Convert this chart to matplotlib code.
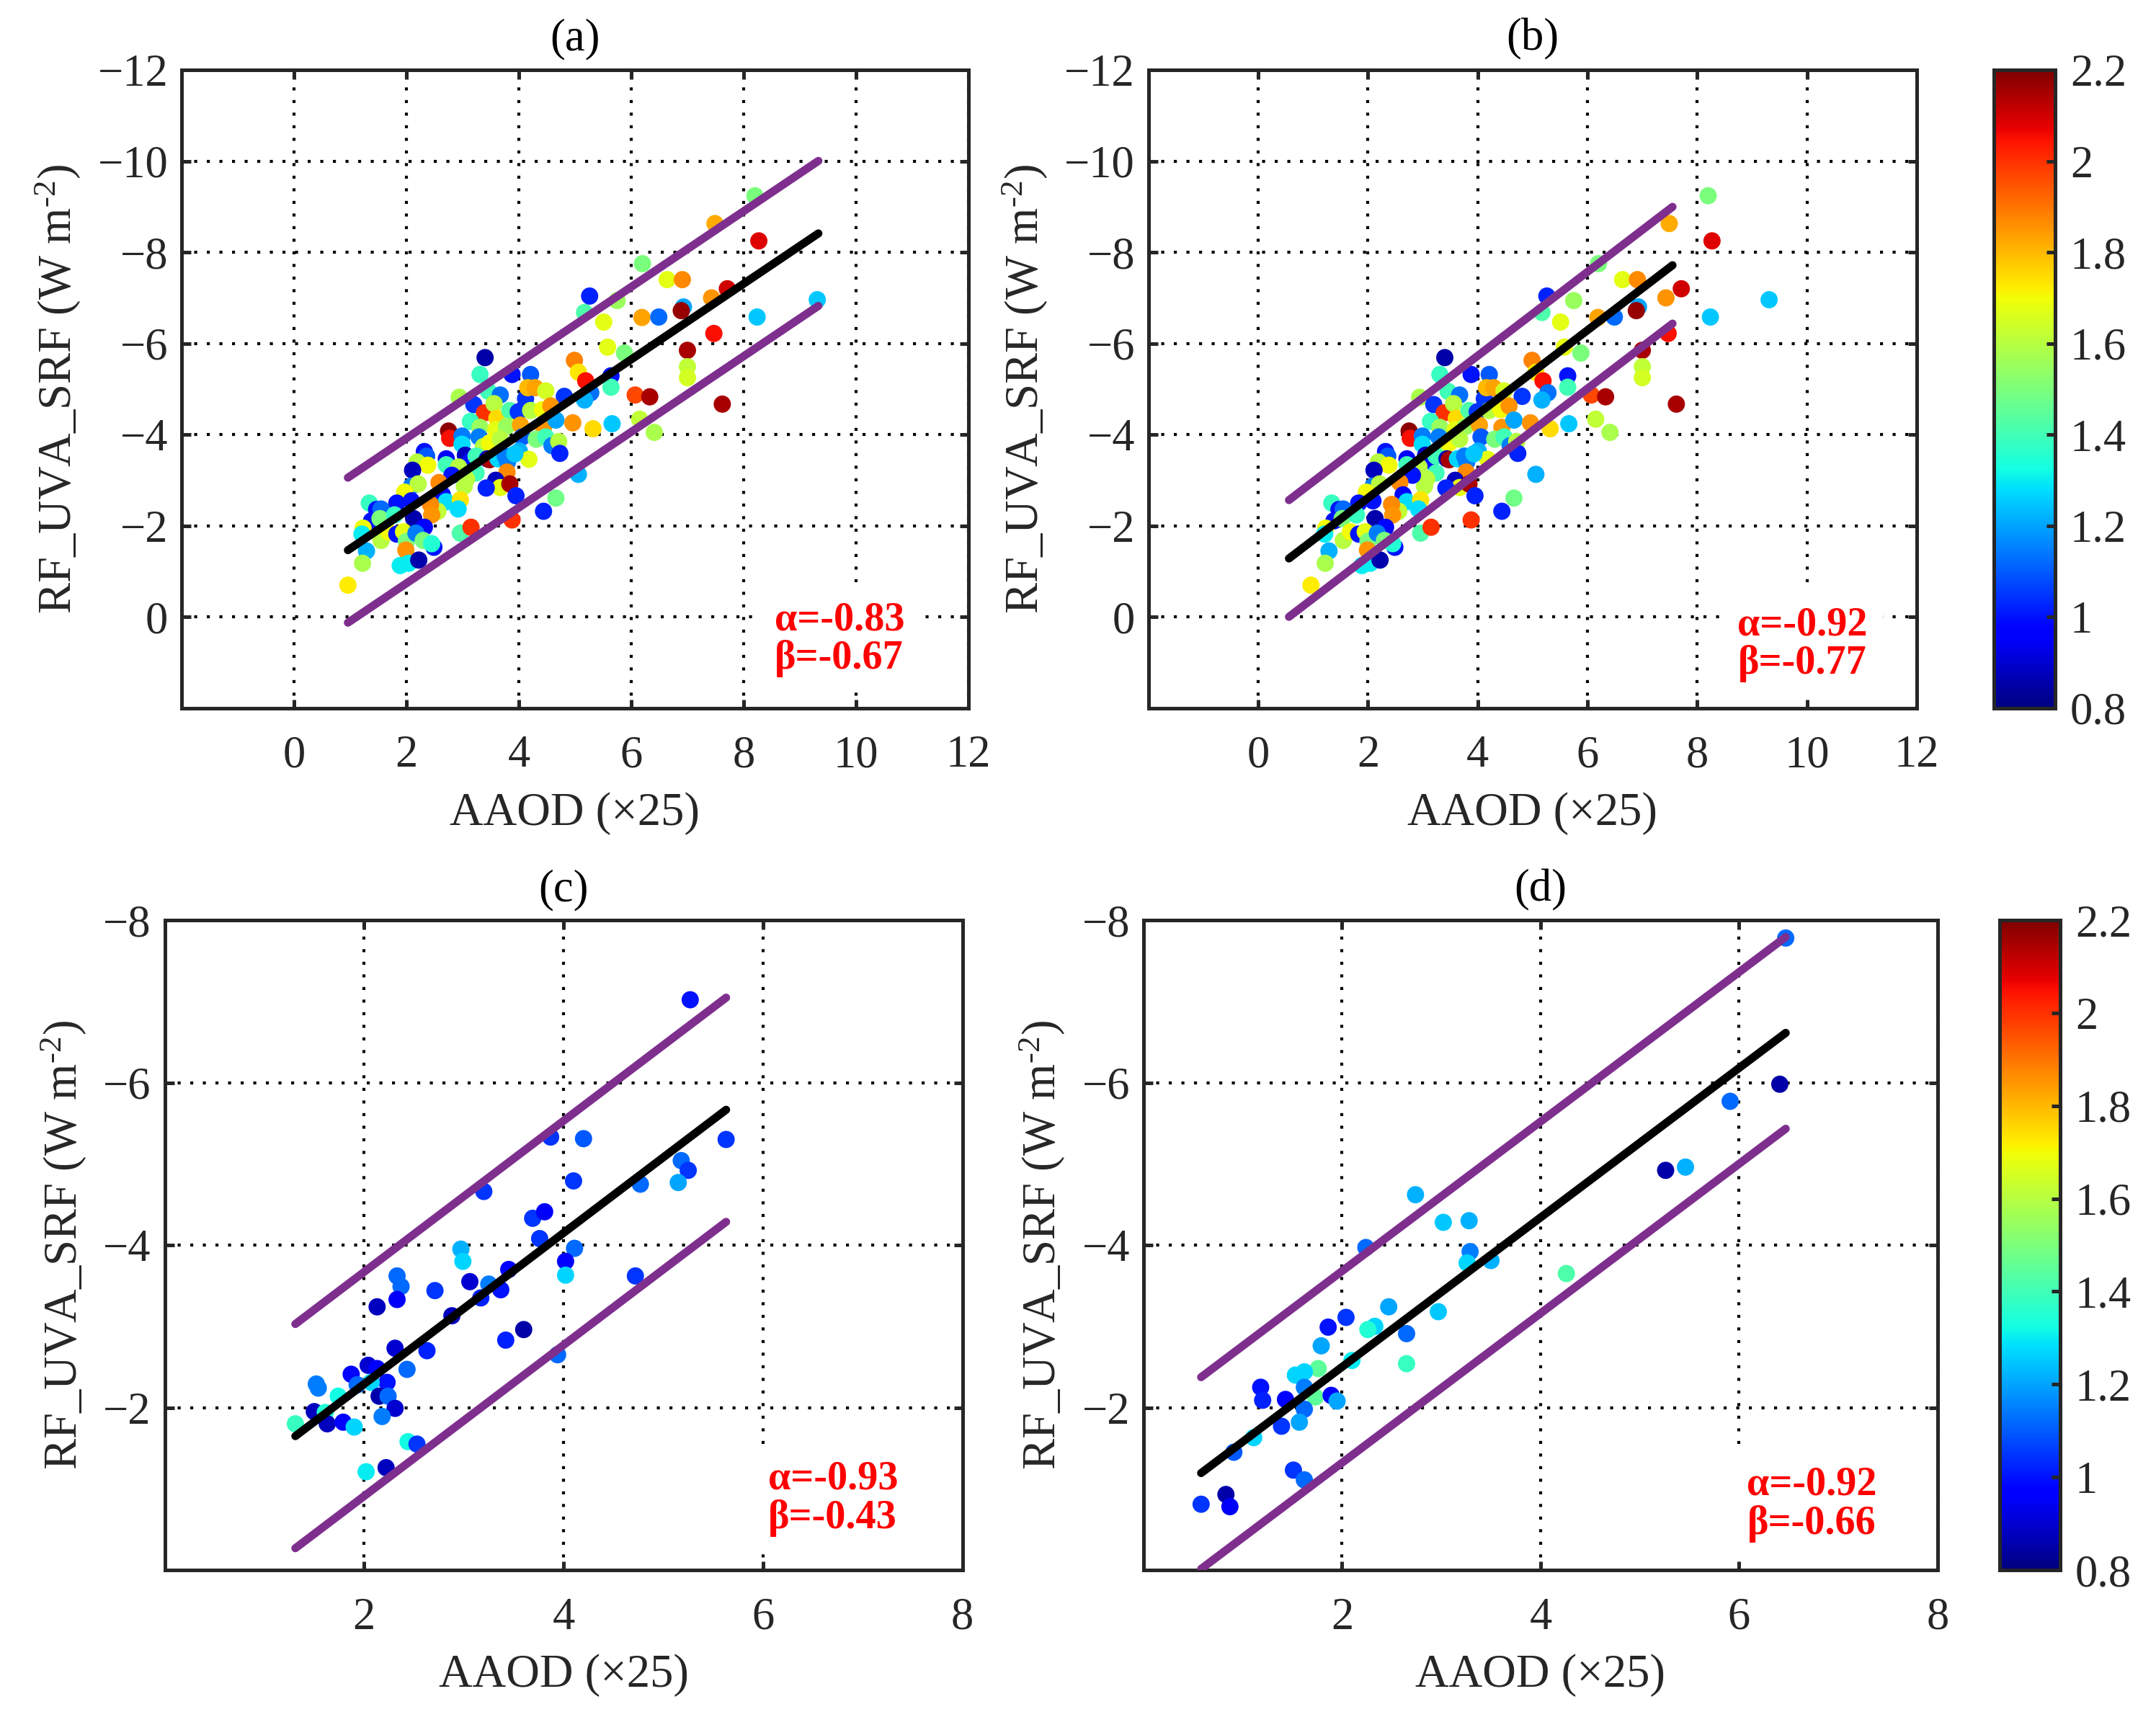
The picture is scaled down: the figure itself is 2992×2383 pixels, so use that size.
import numpy as np
import matplotlib.pyplot as plt
import matplotlib.colors as mcolors
from matplotlib.cm import ScalarMappable

# ---- data ----
# panels (a) and (b) share the same points
top_x = [3.40, 3.31, 3.88, 4.21, 5.17, 5.51, 6.19, 5.58, 5.88, 4.99, 5.06, 5.19, 5.64, 5.64,
         5.28, 5.17, 6.07, 6.33, 2.94, 3.20, 3.46, 3.67, 3.39, 3.56, 4.12, 4.16, 4.29, 4.48,
         4.81, 3.14, 3.31, 3.61, 3.88, 3.84, 3.99, 4.21, 4.42, 4.57, 3.59, 3.78, 4.03, 4.44,
         4.66, 4.96, 5.32, 5.66, 6.15, 6.41, 2.75, 2.77, 2.99, 2.99, 3.29, 3.37, 3.48, 3.67,
         4.06, 4.31, 4.48, 4.59, 4.71, 4.73, 2.32, 2.36, 2.19, 2.38, 2.11, 2.71, 2.71, 3.05,
         3.14, 3.24, 2.93, 3.44, 3.48, 3.63, 3.76, 3.80, 4.01, 4.18, 3.93, 3.24, 3.07, 3.03,
         2.81, 3.79, 3.59, 3.67, 3.84, 3.42, 3.95, 2.09, 2.21, 1.97, 2.58, 2.64, 2.71, 2.96,
         2.92, 2.56, 2.43, 2.45, 1.34, 1.83, 2.09, 1.47, 1.55, 1.38, 1.53, 1.79, 2.13, 2.32,
         1.23, 1.21, 1.55, 1.68, 1.83, 1.95, 2.00, 2.17, 2.30, 2.49, 2.45, 1.99, 1.29, 1.22,
         1.89, 2.04, 2.22, 0.96, 2.96, 3.15, 3.88, 4.44, 4.66, 5.06,
         5.26, 8.20, 7.49, 8.27, 6.20, 6.64, 6.91, 7.71, 7.43, 9.31, 5.75, 6.93, 6.89, 6.49,
         8.24, 7.47, 7.00, 7.00, 7.00, 7.62]
top_y = [-5.69, -5.32, -5.32, -5.32, -6.68, -6.47, -6.57, -5.92, -5.79, -5.63, -5.37, -5.18,
         -5.29, -5.04, -4.92, -4.76, -4.87, -4.83, -4.82, -4.66, -4.95, -4.87, -4.48, -4.68,
         -4.79, -5.03, -5.03, -4.96, -4.84, -4.29, -4.16, -4.36, -4.37, -4.53, -4.50, -4.53,
         -4.55, -4.63, -4.11, -4.18, -4.21, -4.16, -4.32, -4.26, -4.13, -4.24, -4.34, -4.05,
         -4.08, -3.92, -3.97, -3.79, -3.95, -3.74, -3.82, -3.90, -3.95, -3.90, -3.95, -3.76,
         -3.85, -3.59, -3.63, -3.53, -3.40, -3.33, -3.22, -3.47, -3.34, -3.55, -3.42, -3.53,
         -3.29, -3.47, -3.45, -3.47, -3.53, -3.40, -3.64, -3.46, -3.58, -3.16, -3.03, -2.87,
         -3.11, -3.18, -3.00, -2.84, -2.92, -2.83, -2.66, -2.87, -2.92, -2.74, -2.95, -2.68,
         -2.53, -2.57, -2.37, -2.32, -2.47, -2.24, -2.50, -2.50, -2.55, -2.36, -2.37, -2.11,
         -2.16, -2.24, -2.16, -1.97, -1.95, -1.82, -1.68, -1.87, -1.82, -1.87, -1.66, -1.84,
         -1.68, -1.53, -1.61, -1.47, -1.45, -1.18, -1.13, -1.18, -1.25, -0.70, -1.84, -1.97,
         -2.13, -2.32, -2.61, -3.13,
         -7.04, -9.24, -8.63, -8.25, -7.75, -7.40, -7.40, -7.20, -7.00, -6.96, -6.94, -6.80,
         -6.72, -6.58, -6.58, -6.22, -5.85, -5.49, -5.25, -4.67]
top_c = [0.85, 1.38, 1.00, 1.10, 1.42, 1.68, 1.83, 1.68, 1.50, 1.88, 1.73, 2.05, 1.00, 1.40,
         1.13, 1.22, 1.97, 2.15, 1.58, 1.05, 1.40, 1.13, 2.00, 1.60, 1.05, 1.80, 1.83, 1.65,
         1.05, 1.38, 1.55, 1.75, 1.68, 1.42, 1.05, 1.60, 1.70, 1.85, 1.68, 1.55, 1.83, 1.85,
         1.20, 1.85, 1.75, 1.25, 1.62, 1.58, 2.18, 2.05, 1.15, 1.28, 1.15, 1.60, 1.70, 1.60,
         1.10, 1.50, 1.40, 1.15, 1.60, 1.02, 1.00, 1.10, 1.60, 1.70, 0.88, 0.98, 1.40, 0.88,
         1.00, 1.40, 1.60, 0.88, 2.15, 1.27, 1.15, 1.15, 1.22, 1.68, 1.25, 1.40, 1.60, 1.60,
         1.00, 1.87, 0.88, 1.68, 2.15, 1.02, 1.02, 1.15, 1.60, 1.70, 1.87, 0.98, 1.28, 1.73,
         1.28, 1.62, 1.87, 1.85, 1.38, 1.00, 1.00, 1.00, 1.12, 1.00, 1.50, 1.38, 0.86, 0.98,
         1.70, 1.30, 1.60, 1.70, 1.00, 1.68, 1.50, 1.15, 1.50, 1.00, 1.35, 1.85, 1.22, 1.58,
         1.30, 1.30, 0.86, 1.72, 1.42, 2.00, 2.00, 1.02, 1.48, 1.22,
         1.02, 1.50, 1.82, 2.08, 1.50, 1.68, 1.87, 2.10, 1.85, 1.25, 1.55, 1.20, 2.17, 1.12,
         1.25, 2.05, 2.15, 1.62, 1.65, 2.15]

c_x = [5.27, 3.87, 4.20, 5.63, 3.20, 5.18, 5.25, 5.15, 4.10, 4.77, 3.69, 3.81, 3.76, 2.97,
       4.11, 2.99, 4.02, 3.45, 4.02, 2.33, 2.37, 2.71, 3.06, 3.25, 3.37, 3.17, 2.33, 2.13,
       4.72, 2.88, 3.42, 3.60, 2.31, 2.63, 3.94, 2.04, 2.13, 2.43, 1.87, 1.52, 1.54, 1.93,
       2.23, 2.07, 2.15, 2.24, 1.74, 1.50, 2.31, 1.61, 2.18, 1.31, 1.63, 1.79, 1.90, 2.44,
       2.53, 2.02, 2.22]
c_y = [-7.02, -5.33, -5.31, -5.30, -4.66, -5.04, -4.92, -4.77, -4.79, -4.75, -4.33, -4.41,
       -4.08, -3.95, -3.96, -3.80, -3.80, -3.70, -3.63, -3.62, -3.49, -3.44, -3.55, -3.52,
       -3.45, -3.35, -3.33, -3.24, -3.62, -3.13, -2.83, -2.96, -2.73, -2.70, -2.65, -2.52,
       -2.48, -2.47, -2.41, -2.29, -2.24, -2.28, -2.31, -2.31, -2.14, -2.14, -2.14, -1.95,
       -1.99, -1.94, -1.89, -1.80, -1.80, -1.82, -1.76, -1.58, -1.55, -1.21, -1.26]
c_c = [1.00, 1.05, 1.10, 1.05, 1.05, 1.12, 1.05, 1.20, 1.05, 1.12, 1.05, 0.95, 1.05, 1.22,
       1.12, 1.27, 0.98, 0.98, 1.27, 1.12, 1.12, 1.05, 0.90, 1.15, 1.00, 1.02, 0.95, 0.88,
       1.05, 0.88, 1.02, 0.85, 0.90, 1.02, 1.12, 0.90, 0.98, 1.12, 0.98, 1.15, 1.15, 1.12,
       1.00, 1.27, 0.86, 1.12, 1.32, 0.88, 0.90, 1.35, 1.15, 1.38, 0.88, 0.98, 1.27, 1.32,
       1.05, 1.30, 0.88]

d_x = [6.47, 6.41, 5.91, 5.26, 5.46, 2.74, 3.02, 3.28, 2.24, 3.29, 3.26, 3.50, 4.26, 2.47,
       2.97, 2.04, 1.86, 2.33, 2.26, 2.65, 1.79, 2.65, 2.10, 1.76, 1.62, 1.53, 1.18, 1.62,
       1.20, 1.43, 1.73, 1.89, 1.95, 1.62, 1.57, 1.39, 1.11, 0.91, 1.51, 1.62, 0.83, 0.58,
       0.87]
d_y = [-7.78, -5.98, -5.77, -4.92, -4.96, -4.62, -4.28, -4.30, -3.97, -3.92, -3.78, -3.81,
       -3.65, -3.24, -3.18, -3.11, -2.99, -3.00, -2.96, -2.91, -2.76, -2.54, -2.58, -2.48,
       -2.44, -2.40, -2.25, -2.25, -2.09, -2.10, -2.13, -2.15, -2.08, -1.98, -1.82, -1.77,
       -1.63, -1.45, -1.23, -1.11, -0.93, -0.81, -0.78]
d_c = [1.12, 0.85, 1.12, 0.85, 1.22, 1.22, 1.25, 1.22, 1.12, 1.15, 1.27, 1.22, 1.42, 1.20,
       1.25, 1.05, 1.00, 1.27, 1.35, 1.12, 1.20, 1.38, 1.30, 1.45, 1.27, 1.27, 1.00, 1.15,
       1.02, 0.98, 1.45, 0.98, 1.20, 1.12, 1.20, 1.05, 1.27, 1.10, 1.05, 1.12, 0.85, 1.05,
       0.95]

titles = ["(a)", "(b)", "(c)", "(d)"]
alphas = [-0.83, -0.92, -0.93, -0.92]
betas = [-0.67, -0.77, -0.43, -0.66]
bands = [1.59, 1.28, 1.38, 1.18]
fit_x_start = [0.96, 0.56, 1.31, 0.58]
fit_x_end = [9.33, 7.55, 5.63, 6.47]

top_xticks = [0, 2, 4, 6, 8, 10, 12]
top_yticks = [-12, -10, -8, -6, -4, -2, 0]
bot_xticks = [2, 4, 6, 8]
bot_yticks = [-8, -6, -4, -2]
cbar_ticks = [0.8, 1.0, 1.2, 1.4, 1.6, 1.8, 2.0, 2.2]
cbar_labels = ["0.8", "1", "1.2", "1.4", "1.6", "1.8", "2", "2.2"]

# ---- style ----
plt.rcParams['font.family'] = ['Liberation Serif', 'DejaVu Serif']
plt.rcParams['mathtext.fontset'] = 'custom'
plt.rcParams['mathtext.rm'] = 'Liberation Serif'
plt.rcParams['mathtext.it'] = 'Liberation Serif:italic'
plt.rcParams['mathtext.bf'] = 'Liberation Serif:bold'
dark = '#262626'
purple = '#7E2F8E'
norm = mcolors.Normalize(vmin=0.8, vmax=2.2)

fig = plt.figure(figsize=(2992 / 300, 2383 / 300), dpi=300)

rects = [
    [0.0842, 0.5875, 0.3650, 0.3718],
    [0.5327, 0.5875, 0.3563, 0.3718],
    [0.0764, 0.0856, 0.3700, 0.3785],
    [0.5304, 0.0856, 0.3683, 0.3785],
]
cbar_rects = [
    [0.9248, 0.5875, 0.0284, 0.3718],
    [0.9275, 0.0856, 0.0281, 0.3785],
]
text_pos = [(0.754, 0.108), (0.767, 0.100), (0.756, 0.110), (0.760, 0.101)]

datasets = [(top_x, top_y, top_c), (top_x, top_y, top_c), (c_x, c_y, c_c), (d_x, d_y, d_c)]

for i in range(4):
    ax = fig.add_axes(rects[i])
    x, y, c = datasets[i]
    ax.scatter(x, y, c=c, cmap='jet', norm=norm, s=33, edgecolors='none', zorder=2)

    xs = np.array([fit_x_start[i], fit_x_end[i]])
    fit = alphas[i] * xs + betas[i]
    ax.plot(xs, fit, color='k', lw=2.7, solid_capstyle='round', zorder=3)
    ax.plot(xs, fit - bands[i], color=purple, lw=2.7, solid_capstyle='round', zorder=3)
    ax.plot(xs, fit + bands[i], color=purple, lw=2.7, solid_capstyle='round', zorder=3)

    if i < 2:
        ax.set_xlim(-2, 12)
        ax.set_ylim(2, -12)
        ax.set_xticks(top_xticks)
        ax.set_yticks(top_yticks)
    else:
        ax.set_xlim(0, 8)
        ax.set_ylim(0, -8)
        ax.set_xticks(bot_xticks)
        ax.set_yticks(bot_yticks)

    ax.grid(True, color='k', linestyle=(0, (1, 3.2)), linewidth=1.0)
    ax.set_axisbelow(True)
    for sp in ax.spines.values():
        sp.set_color(dark)
        sp.set_linewidth(1.2)
    ax.tick_params(axis='both', direction='in', length=3, width=1.2, color=dark,
                   labelcolor=dark, labelsize=15, top=True, right=True)
    ax.tick_params(axis='x', pad=9)
    ax.tick_params(axis='y', pad=4.5)

    ax.set_title(titles[i], fontsize=15, color='k', pad=6.5)
    ax.set_xlabel("AAOD (×25)", fontsize=15.5, color=dark, labelpad=5)
    ax.set_ylabel(r"RF_UVA_SRF (W m$^{\text{-2}}$)", fontsize=15.5, color=dark, labelpad=5)

    ax.text(text_pos[i][0], text_pos[i][1],
            f"α={alphas[i]:.2f}\nβ={betas[i]:.2f}",
            transform=ax.transAxes, color='red', fontsize=13.5, fontweight='bold',
            ha='left', va='center', linespacing=1.05, zorder=4,
            bbox=dict(facecolor='white', edgecolor='none', pad=5))

for r in cbar_rects:
    cax = fig.add_axes(r)
    cb = fig.colorbar(ScalarMappable(norm=norm, cmap='jet'), cax=cax)
    cb.set_ticks(cbar_ticks)
    cb.set_ticklabels(cbar_labels)
    cb.outline.set_edgecolor(dark)
    cb.outline.set_linewidth(1.2)
    cax.tick_params(direction='in', length=3, width=1.2, color=dark,
                    labelcolor=dark, labelsize=15, pad=5)

fig.savefig("out.png", dpi=300)
